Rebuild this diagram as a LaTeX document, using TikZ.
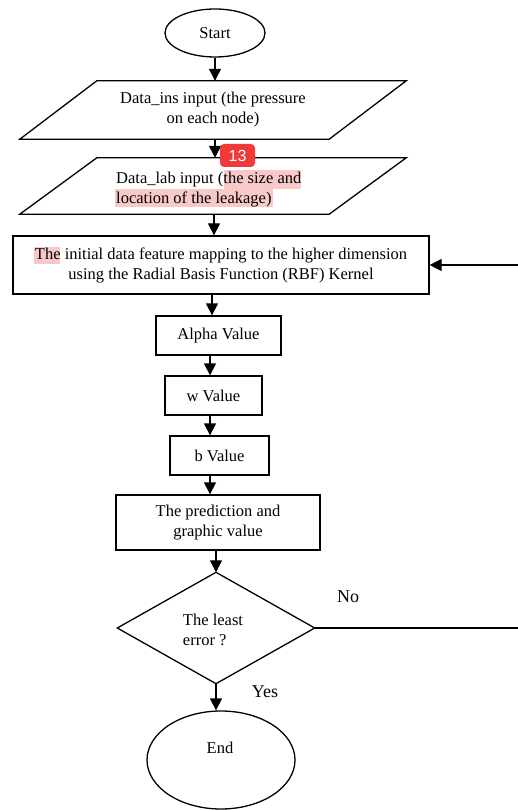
\documentclass[tikz,border=0pt]{standalone}
\usepackage{fontspec}
\setmainfont{Liberation Serif}
\newfontfamily\badgefont{Liberation Sans}
\usetikzlibrary{arrows.meta,shapes.geometric}
\definecolor{hlpink}{HTML}{F9C8C8}
\definecolor{badgered}{HTML}{F03A3A}
\begin{document}
\begin{tikzpicture}[x=1pt,y=-1pt,
  every node/.style={font=\fontsize{16.5}{20}\selectfont,inner sep=0pt},
  box/.style={draw,line width=1.3pt,rectangle},
  oval/.style={draw,line width=1.3pt,ellipse},
  ghost/.style={draw=none,rectangle},
  ln/.style={line width=1.3pt},
  arr/.style={line width=1.3pt,-{Triangle[width=12pt,length=12pt]}},
  lbl/.style={font=\fontsize{18}{20}\selectfont}]
\useasboundingbox (0,0) rectangle (518,810);

% highlights
\fill[hlpink] (224,170) rectangle (301,189);
\fill[hlpink] (115,189) rectangle (273,207);
\fill[hlpink] (34,247) rectangle (60,264);

% nodes
\node[oval,minimum width=100pt,minimum height=48pt] (start) at (215,33) {Start};
\node[ghost,minimum width=386pt,minimum height=58pt,align=center] (p1) at (213,110)
  {Data\_ins input (the pressure\\on each node)};
\node[ghost,minimum width=386pt,minimum height=56pt] (p2) at (213,186) {};
\node[anchor=west,align=left] (t2) at (116,190)
  {Data\_lab input (the size and\\location of the leakage)};
\node[box,minimum width=416pt,minimum height=58pt,align=center] (rbf) at (221,265)
  {The initial data feature mapping to the higher dimension\\using the Radial Basis Function (RBF) Kernel};
\node[box,minimum width=125pt,minimum height=39pt] (alpha) at (218.5,335.5) {Alpha Value};
\node[box,minimum width=97pt,minimum height=39pt] (wv) at (213.5,395.5) {w Value};
\node[box,minimum width=99pt,minimum height=39pt] (bv) at (219.5,455.5) {b Value};
\node[box,minimum width=204pt,minimum height=55pt,align=center] (pred) at (218,522.5)
  {The prediction and\\graphic value};
\node[ghost,minimum width=197pt,minimum height=111pt] (dia) at (216,628) {};
\node[align=left] (dt) at (213,630) {The least\\error ?};
\node[oval,minimum width=148pt,minimum height=98pt] (end) at (221,760) {};
\node (et) at (220,748) {End};

% parallelograms and diamond
\draw[ln] ([xshift=77pt]p1.north west) -- (p1.north east) -- ([xshift=-77pt]p1.south east) -- (p1.south west) -- cycle;
\draw[ln] ([xshift=77pt]p2.north west) -- (p2.north east) -- ([xshift=-77pt]p2.south east) -- (p2.south west) -- cycle;
\draw[ln] (dia.north) -- (dia.east) -- (dia.south) -- (dia.west) -- cycle;

% connectors
\draw[arr] (start.south) -- (start.south |- p1.north);
\draw[arr] (start.south |- p1.south) -- (start.south |- p2.north);
\draw[arr] (p2.south -| 214,0) -- (rbf.north -| 214,0);
\draw[arr] (rbf.south -| 212,0) -- (alpha.north -| 212,0);
\draw[arr] (alpha.south -| 210,0) -- (wv.north -| 210,0);
\draw[arr] (wv.south -| 210,0) -- (bv.north -| 210,0);
\draw[arr] (bv.south -| 210,0) -- (pred.north -| 210,0);
\draw[arr] (pred.south -| 216,0) -- (dia.north);
\draw[arr] (dia.south) -- (dia.south |- end.north);
\coordinate (fbL) at (530,628);
\coordinate (fbU) at (530,265);
\draw[arr] (dia.east) -- (fbL) -- (fbU) -- (rbf.east);

% labels
\node[lbl] (no) at (348,597) {No};
\node[lbl] (yes) at (265,692) {Yes};

% badge
\node[fill=badgered,rounded corners=4pt,minimum width=35pt,minimum height=23pt,
  text=white,font=\badgefont\fontsize{16}{16}\selectfont] (badge) at (237.5,155.5) {13};
\end{tikzpicture}
\end{document}
